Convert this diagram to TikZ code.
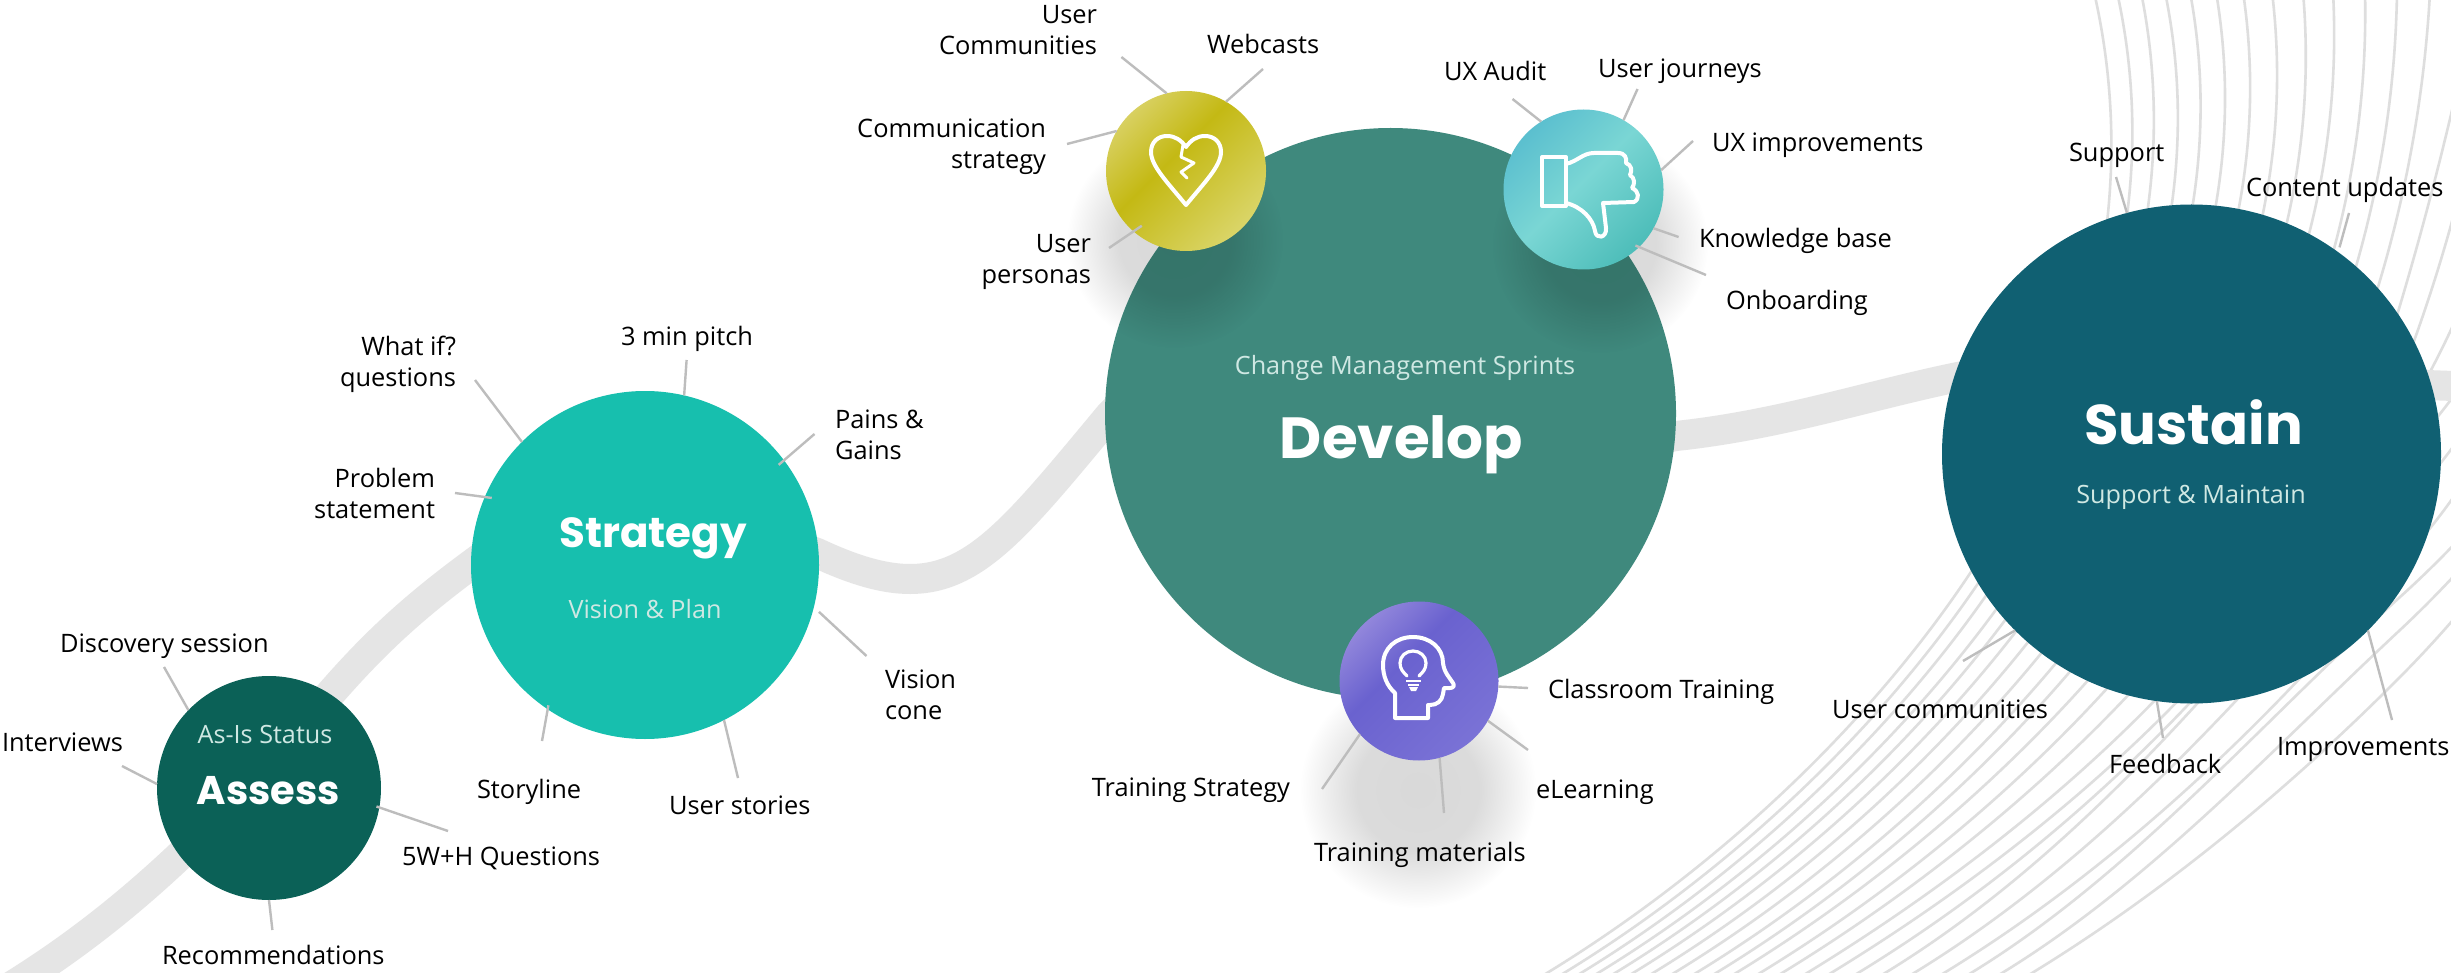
\documentclass[tikz,border=0pt]{standalone}
\usepackage{fontspec}
\setmainfont{Open Sans}
\newfontfamily\titlefont{Poppins}
\usetikzlibrary{fadings}
\definecolor{cAssessC}{HTML}{0B6157}
\definecolor{cStrategyC}{HTML}{17BFAE}
\definecolor{cDevelopC}{HTML}{3F897D}
\definecolor{cSustainC}{HTML}{106072}
\definecolor{ribbonC}{HTML}{E5E5E5}
\definecolor{arcC}{HTML}{DEDEDE}
\definecolor{leaderC}{HTML}{BDBDBD}
\definecolor{subC}{HTML}{CFE8E3}
\definecolor{hA}{HTML}{DAD568}\definecolor{hB}{HTML}{C4B914}\definecolor{hC}{HTML}{D8D060}
\definecolor{tA}{HTML}{4DBDB9}\definecolor{tB}{HTML}{7AD6D4}\definecolor{tC}{HTML}{5BBFCF}
\definecolor{bA}{HTML}{7A72D6}\definecolor{bB}{HTML}{6A62CF}\definecolor{bC}{HTML}{9186DB}
\pgfdeclareverticalshading{heartgrad}{100bp}{color(0bp)=(hA);color(25bp)=(hA);color(56bp)=(hB);color(75bp)=(hC);color(100bp)=(hC)}
\pgfdeclareverticalshading{thumbgrad}{100bp}{color(0bp)=(tA);color(25bp)=(tA);color(52bp)=(tB);color(75bp)=(tC);color(100bp)=(tC)}
\pgfdeclareverticalshading{headgrad}{100bp}{color(0bp)=(bA);color(25bp)=(bA);color(58bp)=(bB);color(75bp)=(bC);color(100bp)=(bC)}
\pgfdeclareradialshading{softsh}{\pgfpointorigin}{color(0bp)=(pgftransparent!85);color(13bp)=(pgftransparent!86);color(25bp)=(pgftransparent!100);color(50bp)=(pgftransparent!100)}
\pgfdeclarefading{softshadow}{\pgfuseshading{softsh}}
\tikzset{
  ribbon/.style={draw=ribbonC,line width=30pt},
  swirl/.style={draw=arcC,line width=2.6pt},
  leader/.style={draw=leaderC,line width=2.4pt},
  disc/.style={circle,inner sep=0pt,outer sep=0pt},
  softdrop/.style={fill=black,path fading=softshadow},
  icon/.style={draw=white,line width=4pt,line join=round,line cap=round},
  lbl/.style={font=\fontsize{25.4}{31}\selectfont,text=black,inner sep=0pt,outer sep=0pt,yshift=-1pt},
  sublbl/.style={font=\fontsize{25.2}{31}\selectfont,text=subC,inner sep=0pt,anchor=base},
  ttl/.style={font=\titlefont\bfseries,text=white,inner sep=0pt,anchor=base},
}
\begin{document}
\begin{tikzpicture}[x=1pt,y=-1pt]
\clip (0,0) rectangle (2451,973);
\fill[white] (0,0) rectangle (2451,973);
% swirl of fine lines: bottom edge -> foot at the Sustain disc -> top or right edge
\foreach \b/\fx/\fy/\tx/\ty/\s in {
1547/2108/213/2094/-8/9,
1564/2128/207/2117/-8/9,
1581/2148/207/2141/-8/9,
1598/2172/203/2165/-8/9,
1615/2193/203/2190/-8/9,
1633/2216/204/2216/-8/9,
1653/2239/207/2243/-8/9,
1674/2263/213/2272/-8/9,
1696/2287/222/2303/-8/9,
1716/2310/230/2333/-8/9,
1736/2335/245/2365/-8/9,
1760/2357/263/2397/-8/9,
1782/2378/287/2430/-8/9,
1807/2398/312/2470/30/3,
1831/2414/341/2470/150/3,
1858/2431/370/2480/260/2,
1885/2435/420/2490/340/2,
1914/2435/470/2490/390/2,
1944/2431/527/2490/440/2,
1971/2400/597/2490/505/2,
2002/2400/630/2490/535/2,
2032/2400/677/2490/575/2}{
  \pgfmathsetmacro\cdx{\tx-\fx}
  \pgfmathsetmacro\cdy{\ty-\fy}
  \pgfmathsetmacro\len{veclen(\cdx,\cdy)}
  \pgfmathsetmacro\nx{-\cdy/\len}
  \pgfmathsetmacro\ny{\cdx/\len}
  \pgfmathsetmacro\cfx{\fx+\cdx/3+\nx*\s*4/3}
  \pgfmathsetmacro\cfy{\fy+\cdy/3+\ny*\s*4/3}
  \pgfmathsetmacro\ctx{\tx-\cdx/3+\nx*\s*4/3}
  \pgfmathsetmacro\cty{\ty-\cdy/3+\ny*\s*4/3}
  \pgfmathsetmacro\ddx{\cfx-\fx}
  \pgfmathsetmacro\ddy{\cfy-\fy}
  \pgfmathsetmacro\dlen{veclen(\ddx,\ddy)}
  \pgfmathsetmacro\chx{\fx-\b}
  \pgfmathsetmacro\chy{\fy-973}
  \pgfmathsetmacro\ll{0.33*veclen(\chx,\chy)}
  \pgfmathsetmacro\aax{\b+\ll*0.85}
  \pgfmathsetmacro\aay{973-\ll*0.52}
  \pgfmathsetmacro\bbx{\fx-\ll*\ddx/\dlen}
  \pgfmathsetmacro\bby{\fy-\ll*\ddy/\dlen}
  \pgfmathsetmacro\bs{\b-33}
  \draw[swirl] (\bs,993) -- (\b,973) .. controls (\aax,\aay) and (\bbx,\bby) .. (\fx,\fy) .. controls (\cfx,\cfy) and (\ctx,\cty) .. (\tx,\ty);
}
% ribbon
\draw[ribbon] (-40,1016) .. controls (110,935) and (215,830) .. (331,693)
  .. controls (380,637) and (425,595) .. (520,530)
  .. controls (600,490) and (730,520) .. (817,553)
  .. controls (950,615) and (985,565) .. (1110,415)
  .. controls (1250,270) and (1500,470) .. (1676,436)
  .. controls (1780,425) and (1870,395) .. (1958,377)
  .. controls (2100,350) and (2300,385) .. (2500,387);
% main discs
\node[disc,fill=cAssessC,minimum size=224pt] (cAssess) at (269,788) {};
\node[disc,fill=cStrategyC,minimum size=348pt] (cStrategy) at (645,565) {};
\node[disc,fill=cDevelopC,minimum size=571pt] (cDevelop) at (1390.5,413.5) {};
\node[disc,fill=cSustainC,minimum size=499pt] (cSustain) at (2191.5,454) {};
% soft shadows
\fill[softdrop] (1175,240) circle (108);
\fill[softdrop] (1600,245) circle (108);
\fill[softdrop] (1418,790) circle (118);
% icon discs
\node[disc,shading=heartgrad,shading angle=45,minimum size=160pt] (cHeart) at (1186,171) {};
\node[disc,shading=thumbgrad,shading angle=45,minimum size=160pt] (cThumb) at (1583.5,189.5) {};
\node[disc,shading=headgrad,shading angle=45,minimum size=159pt] (cHead) at (1419,681) {};
% broken heart
\draw[icon] (1186,205) .. controls (1168,183) and (1151,166) .. (1151,152) .. controls (1151,142) and (1158,136) .. (1167,136) .. controls (1175,136) and (1181,140) .. (1186,147) .. controls (1191,140) and (1197,136) .. (1205,136) .. controls (1214,136) and (1221,142) .. (1221,152) .. controls (1221,166) and (1204,183) .. (1186,205) -- cycle;
\draw[icon,line width=3pt] (1183,145) -- (1181,157) -- (1194,163) -- (1181,172) -- (1187,178);
% thumb down
\draw[icon] (1542,157) rectangle (1566,206);
\draw[icon] (1566,164) .. controls (1578,161) and (1583,153) .. (1594,153) -- (1618,153) .. controls (1625,153) and (1627,158) .. (1626,163) .. controls (1632,165) and (1632,171) .. (1630,175) .. controls (1635,178) and (1635,184) .. (1632,188) .. controls (1639,191) and (1640,199) .. (1634,202) -- (1603,203) -- (1606,228) .. controls (1607,238) and (1596,240) .. (1595,231) .. controls (1593,219) and (1582,207) .. (1566,203);
% head with bulb
\draw[icon] (1395,718) -- (1395,693) .. controls (1387,686) and (1383,676) .. (1383,665) .. controls (1383,648) and (1396,637) .. (1413,637) .. controls (1430,637) and (1443,648) .. (1443,663) .. controls (1444,672) and (1449,677) .. (1453,683) .. controls (1455,686) and (1453,688) .. (1450,688) -- (1444,688) -- (1443,694) .. controls (1442,701) and (1437,705) .. (1430,705) -- (1428,705) -- (1428,718) -- cycle;
\draw[icon,line width=3.2pt] (1407,676) .. controls (1403,672) and (1400,669) .. (1400,663) .. controls (1400,656) and (1406,651) .. (1413,651) .. controls (1420,651) and (1426,656) .. (1426,663) .. controls (1426,669) and (1423,672) .. (1419,676);
\draw[white,line width=2pt] (1406,681) -- (1421,681);
\draw[white,line width=2.4pt] (1408,685) -- (1419,685);
\fill[white] (1409,687) -- (1418,687) -- (1416,691) -- (1411,691) -- cycle;
% free ends of the leaders
\coordinate (eDiscovery) at (164,667);
\coordinate (eInterviews) at (122,766);
\coordinate (eQuestions) at (448,831);
\coordinate (eRecs) at (272.4,930);
\coordinate (eStoryline) at (542,741);
\coordinate (eWhatIf) at (475,380);
\coordinate (ePitch) at (686.6,360);
\coordinate (ePains) at (814.5,434);
\coordinate (eProblem) at (455,493);
\coordinate (eVision) at (866.5,656);
\coordinate (eStories) at (738,778);
\coordinate (eUComm) at (1121.4,57);
\coordinate (eWebcasts) at (1263,69);
\coordinate (eCommStrat) at (1067,144);
\coordinate (ePersonas) at (1109,248);
\coordinate (eAudit) at (1512.5,99);
\coordinate (eJourneys) at (1637.5,89);
\coordinate (eImprove) at (1693,141);
\coordinate (eKnow) at (1678.6,237);
\coordinate (eOnboard) at (1706,275);
\coordinate (eClass) at (1528,688);
\coordinate (eLearn) at (1528,750);
\coordinate (eMaterials) at (1444,813);
\coordinate (eTrainStrat) at (1322,789);
\coordinate (eSupport) at (2116,177);
\coordinate (eContent) at (2349,213);
\coordinate (eCommunities) at (1963,661);
\coordinate (eFeedback) at (2163,738);
\coordinate (eImprovements) at (2392,720);
% leaders
\draw[leader] (cAssess.136.6) -- (eDiscovery);
\draw[leader] (cAssess.178) -- (eInterviews);
\draw[leader,shorten <=-3pt] (cAssess.-10) -- (eQuestions);
\draw[leader] (cAssess.-90) -- (eRecs);
\draw[leader,shorten <=-4pt] (cStrategy.236.5) -- (eStoryline);
\draw[leader] (cStrategy.135) -- (eWhatIf);
\draw[leader] (cStrategy.77) -- (ePitch);
\draw[leader,shorten <=-7pt] (cStrategy.37) -- (ePains);
\draw[leader,shorten <=-7pt] (cStrategy.157.4) -- (eProblem);
\draw[leader,shorten <=7pt] (cStrategy.-14) -- (eVision);
\draw[leader] (cStrategy.-63) -- (eStories);
\draw[leader] (cHeart.104.6) -- (eUComm);
\draw[leader] (cHeart.60) -- (eWebcasts);
\draw[leader] (cHeart.150) -- (eCommStrat);
\draw[leader,shorten <=-10pt] (cHeart.229.7) -- (ePersonas);
\draw[leader] (cThumb.122) -- (eAudit);
\draw[leader] (cThumb.60) -- (eJourneys);
\draw[leader] (cThumb.14.8) -- (eImprove);
\draw[leader] (cThumb.-29.8) -- (eKnow);
\draw[leader,shorten <=-4pt] (cThumb.-46) -- (eOnboard);
\draw[leader] (cHead.-4.4) -- (eClass);
\draw[leader] (cHead.-30) -- (eLearn);
\draw[leader] (cHead.-75.4) -- (eMaterials);
\draw[leader] (cHead.222) -- (eTrainStrat);
\draw[leader] (cSustain.105.1) -- (eSupport);
\draw[leader,shorten <=5pt] (cSustain.54.5) -- (eContent);
\draw[leader] (cSustain.225) -- (eCommunities);
\draw[leader] (cSustain.262.8) -- (eFeedback);
\draw[leader] (cSustain.-45.2) -- (eImprovements);
% titles
\node[sublbl] (sAssess) at (265,743) {As-Is Status};
\node[ttl,font=\titlefont\bfseries\fontsize{40}{48}\selectfont] (tAssess) at (268.5,804) {Assess};
\node[ttl,font=\titlefont\bfseries\fontsize{42}{50}\selectfont] (tStrategy) at (653,547) {Strategy};
\node[sublbl] (sStrategy) at (645,618) {Vision \& Plan};
\node[sublbl] (sDevelop) at (1405,374) {Change Management Sprints};
\node[ttl,font=\titlefont\bfseries\fontsize{58}{70}\selectfont] (tDevelop) at (1401.5,458) {Develop};
\node[ttl,font=\titlefont\bfseries\fontsize{56}{68}\selectfont] (tSustain) at (2193.5,444) {Sustain};
\node[sublbl] (sSustain) at (2191,503) {Support \& Maintain};
% labels
\node[lbl,anchor=base west] (lDiscovery) at (60,651) {Discovery session};
\node[lbl,anchor=base west] (lInterviews) at (2,750) {Interviews};
\node[lbl,anchor=base west] (lQuestions) at (402,864) {5W+H Questions};
\node[lbl,anchor=base west] (lRecs) at (162,963) {Recommendations};
\node[lbl,anchor=base west] (lStoryline) at (477,797) {Storyline};
\node[lbl,anchor=base east,align=right] (lWhatIf) at (456,385) {What if?\\questions};
\node[lbl,anchor=base west] (lPitch) at (621,344) {3 min pitch};
\node[lbl,anchor=base west,align=left] (lPains) at (835,458) {Pains \&\\Gains};
\node[lbl,anchor=base east,align=right] (lProblem) at (435,517) {Problem\\statement};
\node[lbl,anchor=base west,align=left] (lVision) at (885,718) {Vision\\cone};
\node[lbl,anchor=base west] (lStories) at (669,813) {User stories};
\node[lbl,anchor=base east,align=right] (lUComm) at (1097,54) {User\\Communities};
\node[lbl,anchor=base west] (lWebcasts) at (1207,53) {Webcasts};
\node[lbl,anchor=base east,align=right] (lCommStrat) at (1046,168) {Communication\\strategy};
\node[lbl,anchor=base east,align=right] (lPersonas) at (1091,283) {User\\personas};
\node[lbl,anchor=base west] (lAudit) at (1444,80) {UX Audit};
\node[lbl,anchor=base west] (lJourneys) at (1598,77) {User journeys};
\node[lbl,anchor=base west] (lImprove) at (1712,151) {UX improvements};
\node[lbl,anchor=base west] (lKnow) at (1699,247) {Knowledge base};
\node[lbl,anchor=base west] (lOnboard) at (1726,309) {Onboarding};
\node[lbl,anchor=base west] (lClass) at (1548,697) {Classroom Training};
\node[lbl,anchor=base west] (lLearn) at (1536,797) {eLearning};
\node[lbl,anchor=base west] (lMaterials) at (1314,860) {Training materials};
\node[lbl,anchor=base east] (lTrainStrat) at (1290,795) {Training Strategy};
\node[lbl,anchor=base west] (lSupport) at (2069,161) {Support};
\node[lbl,anchor=base west] (lContent) at (2246,196) {Content updates};
\node[lbl,anchor=base west] (lCommunities) at (1832,717) {User communities};
\node[lbl,anchor=base west] (lFeedback) at (2109,772) {Feedback};
\node[lbl,anchor=base west] (lImprovements) at (2277,754) {Improvements};
\end{tikzpicture}
\end{document}
